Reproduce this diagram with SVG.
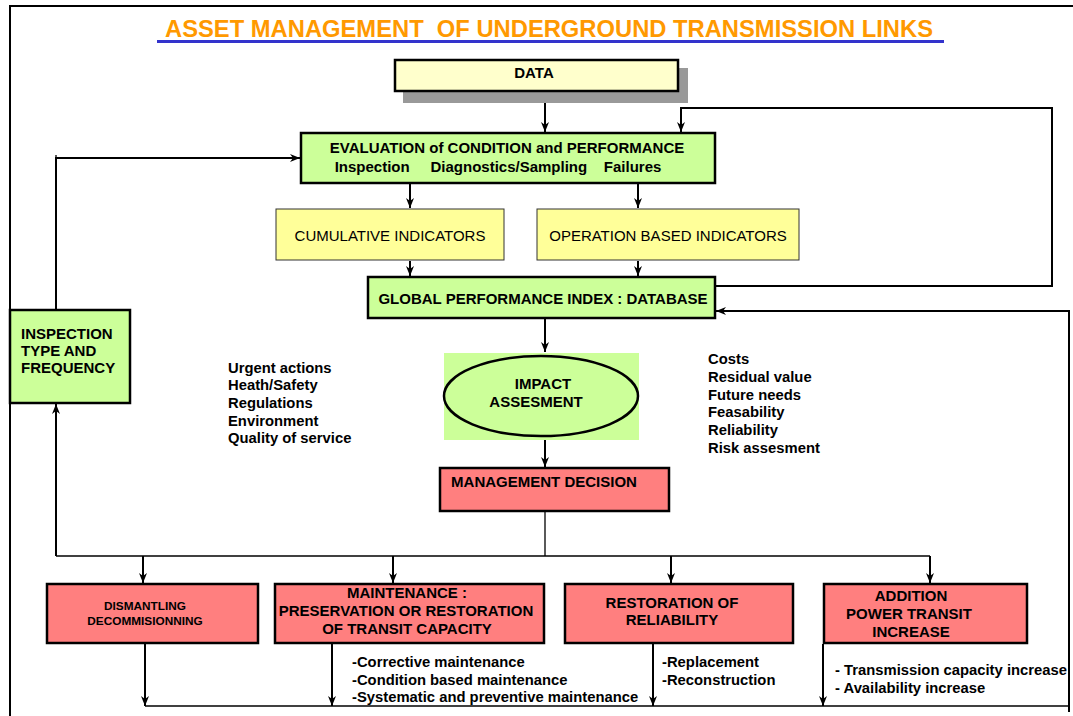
<svg xmlns="http://www.w3.org/2000/svg" width="1073" height="716" viewBox="0 0 1073 716">
<defs>
<marker id="ah" markerWidth="10" markerHeight="8" refX="10" refY="4" orient="auto" markerUnits="userSpaceOnUse">
<path d="M0,0 L10,4 L0,8 L3,4 z" fill="#000"/>
</marker>
</defs>
<style>
text{font-family:"Liberation Sans",Arial,sans-serif;font-weight:bold;fill:#000}
.c{text-anchor:middle}
.n{font-weight:normal}
.box{stroke:#000;stroke-width:2.5}
.g{fill:#CCFF99}
.r{fill:#FF7F7F}
.y{fill:#FFFF99;stroke:#333;stroke-width:1}
.ln{fill:none;stroke:#000;stroke-width:1.3}
.la{fill:none;stroke:#000;stroke-width:2;marker-end:url(#ah)}
.t13{font-size:14.8px}
.t14{font-size:15px}
</style>
<rect width="1073" height="716" fill="#fff"/>
<g id="frame">
<path d="M10,716 L10,6 L1073,6" fill="none" stroke="#000" stroke-width="2"/>
</g>
<g id="title">
<text x="549" y="37" class="c" font-size="23" style="fill:#FF9900" textLength="768" lengthAdjust="spacingAndGlyphs" xml:space="preserve">ASSET MANAGEMENT  OF UNDERGROUND TRANSMISSION LINKS</text>
<rect x="157" y="40" width="787" height="3" fill="#3333CC"/>
</g>
<g id="connectors">
<line class="la" x1="545" y1="92" x2="545" y2="132"/>
<polyline class="la" points="716,286 1052,286 1052,108 681,108 681,132"/>
<polyline class="la" points="56,309 56,158 300,158"/>
<line class="ln" x1="56" y1="155" x2="56" y2="160"/>
<line class="la" x1="410" y1="184" x2="410" y2="208"/>
<line class="la" x1="638" y1="184" x2="638" y2="208"/>
<line class="la" x1="410" y1="261" x2="410" y2="276"/>
<line class="la" x1="638" y1="261" x2="638" y2="276"/>
<line class="la" x1="545" y1="318" x2="545" y2="352"/>
<line class="la" x1="545" y1="440" x2="545" y2="467"/>
<polyline class="ln" points="545,512 545,556"/>
<polyline class="ln" points="56,556 930,556"/>
<line class="la" x1="56" y1="556" x2="56" y2="404"/>
<line class="la" x1="143" y1="556" x2="143" y2="583"/>
<line class="la" x1="393" y1="556" x2="393" y2="583"/>
<line class="la" x1="671" y1="556" x2="671" y2="583"/>
<line class="la" x1="930" y1="556" x2="930" y2="583"/>
<line class="la" x1="145" y1="644" x2="145" y2="706"/>
<line class="la" x1="332" y1="644" x2="332" y2="706"/>
<line class="la" x1="653" y1="644" x2="653" y2="706"/>
<line class="la" x1="823" y1="644" x2="823" y2="706"/>
<polyline class="ln" points="145,706 1069,706"/>
<polyline class="la" points="1069,712 1069,311 716,311"/>
</g>
<g id="data">
<rect x="403" y="68" width="285" height="35" fill="#999"/>
<rect x="395" y="60" width="283" height="31" fill="#FFFFCC" class="box"/>
<text x="534" y="78" class="c t14">DATA</text>
</g>
<g id="evaluation">
<rect x="301" y="133" width="414" height="50" class="box g"/>
<text x="507" y="153" class="c t14">EVALUATION of CONDITION and PERFORMANCE</text>
<text x="498" y="172" class="c t14" xml:space="preserve">Inspection     Diagnostics/Sampling    Failures</text>
</g>
<g id="cumulative">
<rect x="276" y="209" width="228" height="51" class="y"/>
<text x="390" y="241" class="c t14 n">CUMULATIVE INDICATORS</text>
</g>
<g id="operation">
<rect x="537" y="209" width="262" height="51" class="y"/>
<text x="668" y="241" class="c t14 n">OPERATION BASED INDICATORS</text>
</g>
<g id="global">
<rect x="368" y="277" width="347" height="41" class="box g"/>
<text x="543" y="304" class="c t14">GLOBAL PERFORMANCE INDEX : DATABASE</text>
</g>
<g id="inspection">
<rect x="10" y="310" width="120" height="93" class="box g"/>
<text x="21" y="339" class="t14">INSPECTION</text>
<text x="21" y="356" class="t14">TYPE AND</text>
<text x="21" y="373" class="t14">FREQUENCY</text>
</g>
<g id="impact">
<rect x="444" y="353" width="195" height="87" class="g"/>
<ellipse cx="541" cy="396" rx="97" ry="40" fill="#CCFF99" stroke="#000" stroke-width="2.5"/>
<text x="543" y="389" class="c t14">IMPACT</text>
<text x="536" y="407" class="c t14">ASSESMENT</text>
</g>
<g id="left-factors">
<text x="228" y="373" class="t13">Urgent actions</text>
<text x="228" y="390" class="t13">Heath/Safety</text>
<text x="228" y="408" class="t13">Regulations</text>
<text x="228" y="426" class="t13">Environment</text>
<text x="228" y="443" class="t13">Quality of service</text>
</g>
<g id="right-factors">
<text x="708" y="364" class="t13">Costs</text>
<text x="708" y="382" class="t13">Residual value</text>
<text x="708" y="400" class="t13">Future needs</text>
<text x="708" y="417" class="t13">Feasability</text>
<text x="708" y="435" class="t13">Reliability</text>
<text x="708" y="453" class="t13">Risk assesment</text>
</g>
<g id="decision">
<rect x="440" y="468" width="229" height="43" class="box r"/>
<text x="544" y="487" class="c t14">MANAGEMENT DECISION</text>
</g>
<g id="dismantling">
<rect x="47" y="584" width="211" height="59" class="box r"/>
<text x="145" y="610" class="c" font-size="11.8">DISMANTLING</text>
<text x="145" y="625" class="c" font-size="11.8">DECOMMISIONNING</text>
</g>
<g id="maintenance">
<rect x="275" y="584" width="269" height="59" class="box r"/>
<text x="407" y="598" class="c t14">MAINTENANCE :</text>
<text x="406" y="616" class="c t14">PRESERVATION OR RESTORATION</text>
<text x="407" y="634" class="c t14">OF TRANSIT CAPACITY</text>
</g>
<g id="restoration">
<rect x="565" y="584" width="228" height="59" class="box r"/>
<text x="672" y="608" class="c t14">RESTORATION OF</text>
<text x="672" y="625" class="c t14">RELIABILITY</text>
</g>
<g id="addition">
<rect x="824" y="584" width="203" height="59" class="box r"/>
<text x="911" y="601" class="c t14">ADDITION</text>
<text x="909" y="619" class="c t14">POWER TRANSIT</text>
<text x="911" y="637" class="c t14">INCREASE</text>
</g>
<g id="maintenance-list">
<text x="352" y="667" class="t13">-Corrective maintenance</text>
<text x="352" y="685" class="t13">-Condition based maintenance</text>
<text x="352" y="702" class="t13">-Systematic and preventive maintenance</text>
</g>
<g id="restoration-list">
<text x="662" y="667" class="t13">-Replacement</text>
<text x="662" y="685" class="t13">-Reconstruction</text>
</g>
<g id="addition-list">
<text x="835" y="675" class="t13">- Transmission capacity increase</text>
<text x="835" y="693" class="t13">- Availability increase</text>
</g>
</svg>
